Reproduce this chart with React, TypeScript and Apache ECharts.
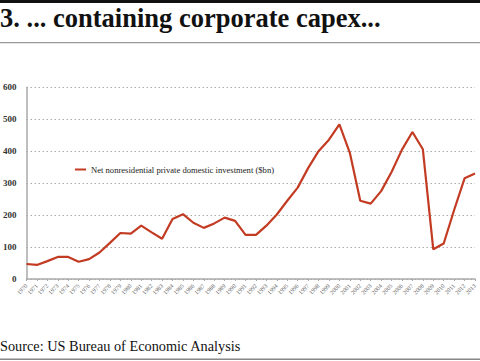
import React, { useEffect, useRef } from "react";
import * as echarts from "echarts";

const years = Array.from({ length: 44 }, (_, i) => String(1970 + i));
const investment = [
  47, 44, 56, 69, 69, 54, 62, 83, 113, 144, 142, 167, 146, 126, 188, 203, 176, 160, 174, 192,
  182, 138, 138, 167, 202, 245, 286, 347, 400, 436, 484, 395, 245, 236, 275, 335, 405, 460,
  406, 93, 111, 216, 315, 330,
];
const seriesName = "Net nonresidential private domestic investment ($bn)";
const yTicks = [0, 100, 200, 300, 400, 500, 600];

export default function App() {
  const ref = useRef<HTMLDivElement>(null);
  useEffect(() => {
    if (!ref.current) return;
    const chart = echarts.init(ref.current, undefined, { renderer: "svg" });
    const serif = "'Liberation Serif', 'DejaVu Serif', serif";
    chart.setOption({
      animation: false,
      backgroundColor: "#fff",
      grid: { left: 23, right: 5, top: 87.3, bottom: 82, containLabel: false },
      legend: {
        data: [seriesName],
        left: 70,
        top: 160,
        icon: "rect",
        itemWidth: 11,
        itemHeight: 2,
        itemGap: 5,
        textStyle: { fontFamily: serif, fontSize: 8.6, color: "#222" },
      },
      xAxis: {
        type: "category",
        data: years,
        boundaryGap: false,
        axisLine: { lineStyle: { color: "#aaa", width: 1.5 } },
        axisTick: { show: true, length: 2, lineStyle: { color: "#aaa" } },
        axisLabel: {
          interval: 0,
          rotate: 45,
          fontSize: 6,
          fontFamily: serif,
          color: "#666",
          margin: 6,
        },
      },
      yAxis: {
        type: "value",
        min: yTicks[0],
        max: yTicks[yTicks.length - 1],
        interval: 100,
        axisLine: { show: true, lineStyle: { color: "#aaa", width: 1.5 } },
        axisTick: { show: false },
        splitLine: { lineStyle: { color: "#aaa", type: [1.5, 2.5], width: 1 } },
        axisLabel: {
          fontSize: 9,
          fontFamily: serif,
          fontWeight: "bold",
          color: "#333",
          margin: 10,
        },
      },
      series: [
        {
          name: seriesName,
          type: "line",
          data: investment,
          symbol: "none",
          lineStyle: { color: "#c23b22", width: 2.2 },
          itemStyle: { color: "#c23b22" },
        },
      ],
      graphic: [
        { type: "rect", shape: { x: 0, y: 0, width: 480, height: 3 }, style: { fill: "#111" } },
        {
          type: "text",
          left: 0,
          top: 4,
          style: {
            text: "3. ... containing corporate capex...",
            fontFamily: serif,
            fontWeight: "bold",
            fontSize: 26.5,
            fill: "#111",
          },
        },
        { type: "rect", shape: { x: 0, y: 42, width: 480, height: 1.2 }, style: { fill: "#999" } },
        {
          type: "text",
          left: 0,
          top: 339,
          style: {
            text: "Source: US Bureau of Economic Analysis",
            fontFamily: serif,
            fontSize: 14.3,
            fill: "#111",
          },
        },
        { type: "rect", shape: { x: 0, y: 358.5, width: 480, height: 1.5 }, style: { fill: "#888" } },
      ],
    });
    return () => chart.dispose();
  }, []);
  return <div ref={ref} style={{ width: 480, height: 361, position: "fixed", left: 0, top: 0 }} />;
}
